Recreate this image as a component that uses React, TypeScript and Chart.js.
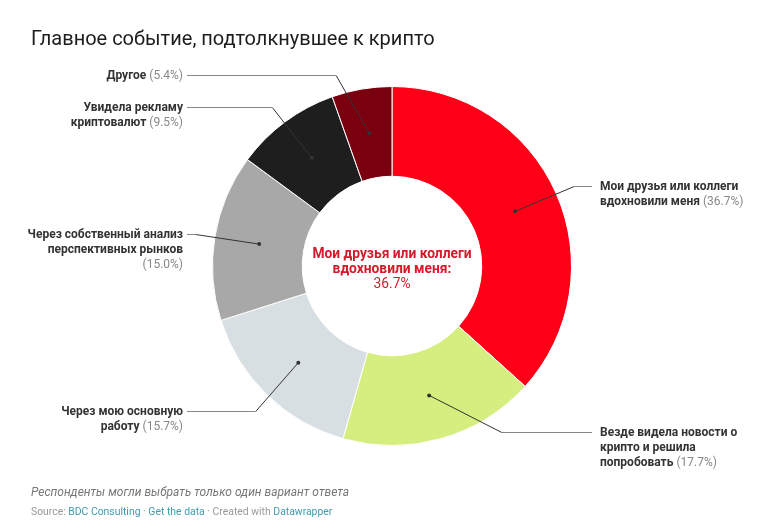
import React, { useEffect, useRef } from "react";
import { Chart, registerables } from "chart.js";

Chart.register(...registerables);

const categories = [
  "Мои друзья или коллеги вдохновили меня",
  "Везде видела новости о крипто и решила попробовать",
  "Через мою основную работу",
  "Через собственный анализ перспективных рынков",
  "Увидела рекламу криптовалют",
  "Другое",
];
const labelLines = [
  ["Мои друзья или коллеги", "вдохновили меня"],
  ["Везде видела новости о", "крипто и решила", "попробовать"],
  ["Через мою основную", "работу"],
  ["Через собственный анализ", "перспективных рынков", ""],
  ["Увидела рекламу", "криптовалют"],
  ["Другое"],
];
const values = [36.7, 17.7, 15.7, 15.0, 9.5, 5.4];
const sliceColors = ["#fd0018", "#d6ed7f", "#d7dfe3", "#a8a8a8", "#1e1e1e", "#7a0010"];
const centerLines = ["Мои друзья или коллеги", "вдохновили меня:"];
const highlightIndex = 0;

// layout (positions only)
const labelY = [186, 432, 411, 234, 107, 75];
const LINE_H = 15;
const ELBOW_R = 199;
const LEFT_TEXT_X = 183;
const RIGHT_TEXT_X = 600;
const W = 767;
const H = 530;

const FONT = "Roboto, 'Noto Sans', sans-serif";

const labelPlugin = {
  id: "dwLabels",
  afterDatasetsDraw(chart: any) {
    const ctx = chart.ctx as CanvasRenderingContext2D;
    const meta = chart.getDatasetMeta(0);
    const first = meta.data[0];
    const cx = first.x;
    const cy = first.y;
    ctx.save();
    meta.data.forEach((arc: any, i: number) => {
      const c = arc.getCenterPoint();
      const left = c.x < cx;
      const ly = labelY[i];
      const dy = ly - cy;
      const dx = Math.sqrt(Math.max(ELBOW_R * ELBOW_R - dy * dy, 0));
      const ex = left ? cx - dx : cx + dx;
      const hx = left ? LEFT_TEXT_X + 4 : RIGHT_TEXT_X - 8;
      ctx.strokeStyle = "#333";
      ctx.lineWidth = 1;
      ctx.beginPath();
      ctx.moveTo(c.x, c.y);
      ctx.lineTo(ex, ly + 0.5);
      ctx.stroke();
      ctx.strokeStyle = "#888";
      ctx.beginPath();
      ctx.moveTo(ex, ly + 0.5);
      ctx.lineTo(hx, ly + 0.5);
      ctx.stroke();
      ctx.fillStyle = "#333";
      ctx.beginPath();
      ctx.arc(c.x, c.y, 2, 0, Math.PI * 2);
      ctx.fill();

      const lines = labelLines[i];
      ctx.textBaseline = "middle";
      ctx.textAlign = "left";
      lines.forEach((ln: string, j: number) => {
        const y = ly + j * LINE_H + 0.5;
        const isLast = j === lines.length - 1;
        const pct = isLast ? (ln ? " " : "") + "(" + values[i].toFixed(1) + "%)" : "";
        ctx.font = "bold 12px " + FONT;
        const wb = ctx.measureText(ln).width;
        ctx.font = "12px " + FONT;
        const wp = pct ? ctx.measureText(pct).width : 0;
        const sx = left ? LEFT_TEXT_X - wb - wp : RIGHT_TEXT_X;
        ctx.font = "bold 12px " + FONT;
        ctx.fillStyle = "#333";
        ctx.fillText(ln, sx, y);
        if (pct) {
          ctx.font = "12px " + FONT;
          ctx.fillStyle = "#888";
          ctx.fillText(pct, sx + wb, y);
        }
      });
    });

    ctx.textAlign = "center";
    ctx.textBaseline = "middle";
    ctx.fillStyle = "#d41a2b";
    ctx.font = "bold 13.8px " + FONT;
    centerLines.forEach((t, j) => ctx.fillText(t, cx, 255 + j * 15));
    ctx.font = "13.8px " + FONT;
    ctx.fillText(values[highlightIndex].toFixed(1) + "%", cx, 285);
    ctx.restore();
  },
};

export default function App() {
  const ref = useRef<HTMLCanvasElement>(null);
  useEffect(() => {
    if (!ref.current) return;
    const chart = new Chart(ref.current, {
      type: "doughnut",
      data: {
        labels: categories,
        datasets: [
          {
            data: values,
            backgroundColor: sliceColors,
            borderColor: "#ffffff",
            borderWidth: 1,
          },
        ],
      },
      options: {
        animation: false,
        responsive: false,
        devicePixelRatio: 1,
        cutout: "50%",
        layout: { padding: { left: 212, right: 195, top: 86, bottom: 84 } },
        plugins: {
          legend: { display: false },
          tooltip: { enabled: false },
          title: { display: false },
        },
        events: [],
      },
      plugins: [labelPlugin],
    });
    return () => chart.destroy();
  }, []);

  const link = { color: "#3f9bb0" };
  return (
    <div style={{ position: "absolute", left: 0, top: 0, width: W, height: H, background: "#fff", fontFamily: FONT }}>
      <canvas ref={ref} width={W} height={H} style={{ position: "absolute", left: 0, top: 0 }} />
      <div style={{ position: "absolute", left: 31, top: 26, fontSize: 20, lineHeight: "24px", color: "#1d1d1d", whiteSpace: "nowrap" }}>
        Главное событие, подтолкнувшее к крипто
      </div>
      <div style={{ position: "absolute", left: 31, top: 485, fontSize: 12, lineHeight: "15px", color: "#777", fontStyle: "italic", whiteSpace: "nowrap" }}>
        Респонденты могли выбрать только один вариант ответа
      </div>
      <div style={{ position: "absolute", left: 31, top: 505, fontSize: 10.4, lineHeight: "13px", color: "#999", whiteSpace: "nowrap" }}>
        Source: <span style={link}>BDC Consulting</span> · <span style={link}>Get the data</span> · Created with <span style={link}>Datawrapper</span>
      </div>
    </div>
  );
}
